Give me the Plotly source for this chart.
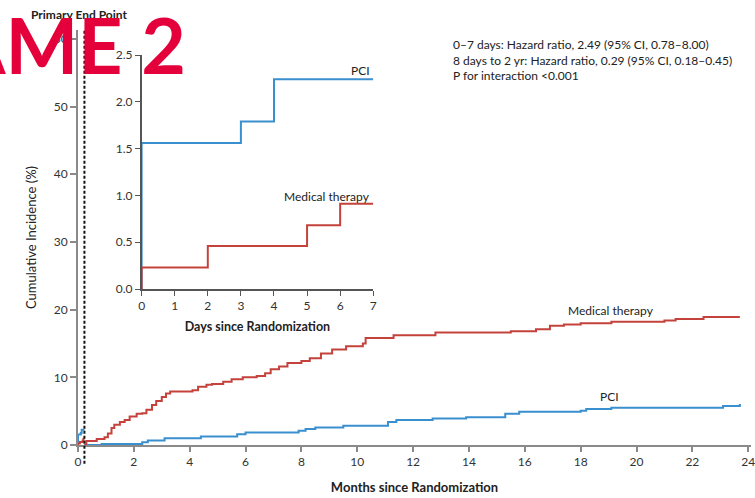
import plotly.graph_objects as go

# ---- data -------------------------------------------------------------
# First week (landmark 0-7 days), cumulative incidence in %
days = [0, 2, 3, 4, 5, 6, 7]
pci_days_val = [1.56, 1.56, 1.79, 2.24, 2.24, 2.24, 2.24]
med_days_val = [0.23, 0.46, 0.46, 0.46, 0.68, 0.91, 0.91]

# 8 days to 2 years, cumulative incidence in %
pci_months = [0.23, 0.85, 2.3, 2.5, 3.1, 4.4, 5.7, 6.0, 7.9, 8.15, 8.5, 9.5,
              11.1, 11.4, 12.7, 13.9, 15.3, 15.8, 18.0, 18.2, 19.1, 23.1, 23.7]
pci_late = [0.0, 0.15, 0.4, 0.65, 1.0, 1.25, 1.6, 1.85, 2.1, 2.35, 2.6, 2.85,
            3.4, 3.7, 3.9, 4.1, 4.6, 4.9, 5.07, 5.3, 5.5, 5.75, 6.05]

med_months = [0.23, 0.3, 0.67, 0.95, 1.07, 1.2, 1.3, 1.5, 1.67, 1.85, 2.1, 2.3,
              2.45, 2.65, 2.8, 3.0, 3.15, 3.3, 4.1, 4.3, 4.6, 4.8, 5.2, 5.5,
              5.9, 6.4, 6.7, 6.9, 7.2, 7.5, 8.0, 8.3, 8.7, 9.1, 9.6, 10.2,
              10.3, 11.3, 12.8, 15.5, 16.4, 16.9, 17.4, 18.0, 19.1, 21.0,
              21.4, 22.4, 23.7]
med_late = [0.0, 0.6, 0.9, 1.15, 1.7, 2.5, 3.0, 3.4, 3.7, 4.2, 4.6, 4.7,
            5.2, 5.9, 6.5, 7.1, 7.6, 7.9, 8.1, 8.6, 8.9, 9.0, 9.35, 9.7,
            10.0, 10.2, 10.6, 11.2, 11.6, 12.1, 12.4, 12.8, 13.5, 14.1, 14.6,
            15.0, 15.8, 16.2, 16.6, 16.8, 17.1, 17.6, 17.8, 18.0, 18.2, 18.4,
            18.6, 18.9, 18.9]

landmark_month = 7 / 30.4
days_per_month = 30.4

month_ticks = list(range(0, 25, 2))
pct_ticks = [0, 10, 20, 30, 40, 50, 60]
day_ticks = list(range(0, 8))
inset_ticks = [0.0, 0.5, 1.0, 1.5, 2.0, 2.5]

stats_lines = [
    "0–7 days: Hazard ratio, 2.49 (95% CI, 0.78–8.00)",
    "8 days to 2 yr: Hazard ratio, 0.29 (95% CI, 0.18–0.45)",
    "P for interaction <0.001",
]

BLUE = "#3a8fce"
RED = "#c4423b"
FONT = "Lato"

# plot-area geometry in pixels (used to place paper-referenced text)
L, R, T, B = 78, 0, 30, 53
W, H = 755, 498
PW, PH = W - L - R, H - T - B


def px(xp):
    return (xp - L) / PW


def py(yp):
    return (H - B - yp) / PH


fig = go.Figure()

# main panel: first-week segment (converted to months) and landmark segment
fig.add_trace(go.Scatter(x=[0] + [d / days_per_month for d in days],
                         y=[0] + pci_days_val, mode="lines", line_shape="hv",
                         line=dict(color=BLUE, width=2), hoverinfo="skip"))
fig.add_trace(go.Scatter(x=[0] + [d / days_per_month for d in days],
                         y=[0] + med_days_val, mode="lines", line_shape="hv",
                         line=dict(color=RED, width=2), hoverinfo="skip"))
fig.add_trace(go.Scatter(x=pci_months, y=pci_late, mode="lines", line_shape="hv",
                         line=dict(color=BLUE, width=2), hoverinfo="skip"))
fig.add_trace(go.Scatter(x=med_months, y=med_late, mode="lines", line_shape="hv",
                         line=dict(color=RED, width=2), hoverinfo="skip"))

# inset: first 7 days
fig.add_trace(go.Scatter(x=[0] + days, y=[0] + pci_days_val, mode="lines",
                         line_shape="hv", line=dict(color=BLUE, width=2),
                         xaxis="x2", yaxis="y2", hoverinfo="skip"))
fig.add_trace(go.Scatter(x=[0] + days, y=[0] + med_days_val, mode="lines",
                         line_shape="hv", line=dict(color=RED, width=2),
                         xaxis="x2", yaxis="y2", hoverinfo="skip"))

axis_common = dict(showgrid=False, zeroline=False, showline=True,
                   ticks="outside", mirror=False)

fig.update_layout(
    width=W, height=H,
    margin=dict(l=L, r=R, t=T, b=B),
    paper_bgcolor="white", plot_bgcolor="white",
    showlegend=False,
    font=dict(family=FONT, size=12, color="#333"),
    xaxis=dict(**axis_common, range=[0, 24.1], tickvals=month_ticks,
               ticklabeloverflow="allow",
               linecolor="#8a8a8a", linewidth=2, tickcolor="#8a8a8a",
               ticklen=5, tickwidth=1.5,
               tickfont=dict(family=FONT, size=12, color="#333"),
               title=dict(text="<b>Months since Randomization</b>",
                          font=dict(family=FONT, size=13, color="#222"),
                          standoff=14)),
    yaxis=dict(**axis_common, range=[0, 61.3], tickvals=pct_ticks,
               linecolor="#8a8a8a", linewidth=2, tickcolor="#8a8a8a",
               ticklen=6, tickwidth=1.5,
               tickfont=dict(family=FONT, size=12, color="#333"),
               title=dict(text="Cumulative Incidence (%)",
                          font=dict(family=FONT, size=13, color="#222"),
                          standoff=14)),
    xaxis2=dict(**axis_common, domain=[px(142), px(375)], anchor="y2",
                range=[0, 7], tickvals=day_ticks,
                linecolor="#555", linewidth=1.5, tickcolor="#555",
                ticklen=5, tickwidth=1.2,
                tickfont=dict(family=FONT, size=12, color="#333"),
                title=dict(text="<b>Days since Randomization</b>",
                           font=dict(family=FONT, size=12.5, color="#222"),
                           standoff=10)),
    yaxis2=dict(**axis_common, domain=[py(289), py(55)], anchor="x2",
                range=[0, 2.5], tickvals=inset_ticks, tickformat=".1f",
                linecolor="#555", linewidth=1.5, tickcolor="#555",
                ticklen=5, tickwidth=1.2,
                tickfont=dict(family=FONT, size=12, color="#333")),
)

# landmark line at 7 days
fig.add_shape(type="line", xref="x", yref="paper",
              x0=landmark_month, x1=landmark_month, y0=-0.045, y1=1.0,
              line=dict(color="#111", width=2, dash="3px,2px"))

# curve labels
fig.add_annotation(x=19.1, y=19.8, xref="x", yref="y", text="Medical therapy",
                   showarrow=False, font=dict(family=FONT, size=12, color="#222"))
fig.add_annotation(x=19.05, y=7.1, xref="x", yref="y", text="PCI",
                   showarrow=False, font=dict(family=FONT, size=12, color="#222"))
fig.add_annotation(x=6.97, y=2.33, xref="x2", yref="y2", text="PCI",
                   xanchor="right", showarrow=False,
                   font=dict(family=FONT, size=12, color="#222"))
fig.add_annotation(x=6.97, y=0.99, xref="x2", yref="y2", text="Medical therapy",
                   xanchor="right", showarrow=False,
                   font=dict(family=FONT, size=12, color="#222"))

# hazard ratio block
fig.add_annotation(x=px(453), y=py(35), xref="paper", yref="paper",
                   text="<br>".join(stats_lines), align="left",
                   xanchor="left", yanchor="top", showarrow=False,
                   font=dict(family=FONT, size=12, color="#222"))

# panel heading
fig.add_annotation(x=px(29), y=py(15), xref="paper", yref="paper",
                   text="<b>Primary End Point</b>",
                   showarrow=False, xanchor="left", yanchor="middle",
                   font=dict(family=FONT, size=12, color="#222"))

# large red overlay caption
fig.add_annotation(x=px(189), y=py(44), xref="paper", yref="paper",
                   text="<b>AME 2</b>", showarrow=False,
                   xanchor="right", yanchor="middle",
                   font=dict(family=FONT, size=77, color="#e4003a"))

fig.write_html("out.html")
